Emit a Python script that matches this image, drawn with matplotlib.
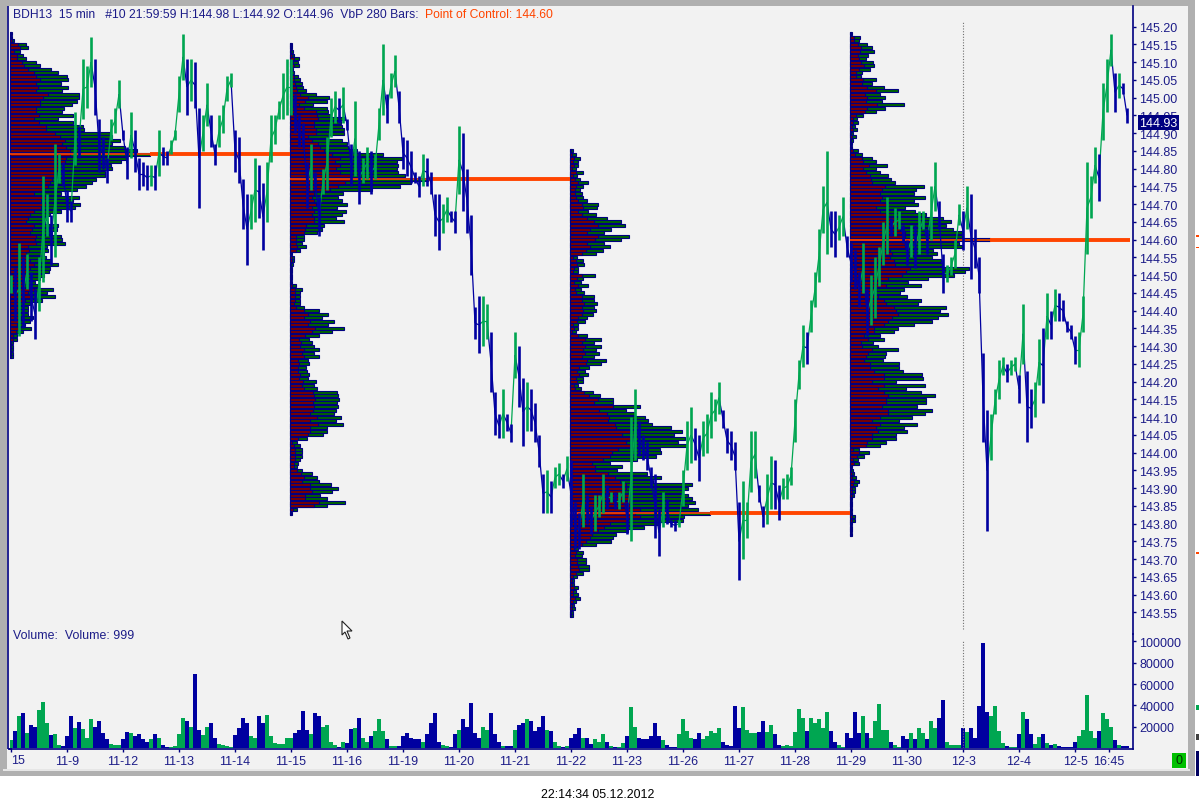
import numpy as np
import matplotlib
matplotlib.use("Agg")
import matplotlib.pyplot as plt
from matplotlib.patches import Rectangle, Polygon
from matplotlib.collections import LineCollection
from matplotlib.transforms import blended_transform_factory

plt.rcParams['font.family'] = ['Liberation Sans', 'DejaVu Sans']

# price highs/lows, one entry per 4 px slot, 70 slots for each 5 day block
high1 = [144.50,144.52,144.59,144.55,144.56,144.51,144.46,144.55,144.78,144.73,144.67,144.87,144.84,144.82,
         144.74,144.71,144.96,144.92,145.11,145.09,145.17,145.11,144.94,144.89,144.83,144.94,144.97,145.05,
         144.91,144.86,144.96,144.91,144.83,144.82,144.81,144.81,144.81,144.91,144.86,144.85,144.88,144.91,
         145.06,145.18,145.11,145.11,145.10,144.97,144.95,145.04,144.95,144.87,144.95,144.98,145.06,145.07,
         144.91,144.89,144.77,144.73,144.73,144.83,144.81,144.76,144.82,144.95,144.95,144.99,145.07,145.11]
low1 = [144.45,144.37,144.33,144.35,144.46,144.37,144.32,144.40,144.48,144.61,144.53,144.55,144.76,144.75,
        144.65,144.65,144.81,144.83,144.94,144.97,145.03,144.95,144.79,144.80,144.76,144.88,144.90,144.97,
        144.88,144.77,144.83,144.79,144.74,144.75,144.74,144.75,144.74,144.78,144.81,144.81,144.84,144.88,
        144.96,145.05,144.95,144.99,144.97,144.69,144.85,144.92,144.86,144.81,144.86,144.90,144.99,145.03,
        144.79,144.76,144.63,144.53,144.63,144.65,144.66,144.57,144.65,144.82,144.87,144.94,144.94,144.95]
high2 = [145.11,145.01,144.95,144.93,144.82,144.87,144.79,144.72,144.80,144.89,145.00,145.02,145.00,145.03,
         144.94,144.87,144.99,144.85,144.83,144.86,144.85,144.84,144.97,145.15,145.01,145.07,145.12,145.02,
         144.89,144.88,144.85,144.79,144.78,144.84,144.83,144.79,144.73,144.73,144.70,144.72,144.68,144.68,
         144.92,144.90,144.80,144.67,144.41,144.44,144.44,144.42,144.34,144.17,144.11,144.18,144.11,144.08,
         144.34,144.30,144.21,144.20,144.18,144.14,144.05,143.94,143.95,143.92,143.96,143.97,143.94,143.99]
low2 = [144.95,144.90,144.86,144.86,144.69,144.74,144.74,144.61,144.73,144.74,144.89,144.93,144.93,144.93,
        144.91,144.75,144.78,144.70,144.76,144.77,144.73,144.77,144.88,144.95,144.93,145.00,145.03,144.93,
        144.80,144.78,144.76,144.76,144.72,144.75,144.75,144.73,144.61,144.57,144.62,144.65,144.65,144.62,
        144.73,144.68,144.62,144.50,144.32,144.28,144.30,144.32,144.17,144.05,144.04,144.04,144.06,144.03,
        144.21,144.13,144.02,144.06,144.06,144.03,143.96,143.83,143.83,143.83,143.90,143.91,143.90,143.92]
high3 = [143.98,143.86,143.83,143.94,143.88,143.85,143.88,143.88,143.94,143.91,143.89,143.89,143.89,143.92,
         143.86,144.10,144.18,144.09,144.05,144.03,143.96,143.94,143.84,143.89,143.87,143.81,143.81,143.81,
         143.95,144.09,144.13,144.07,144.05,144.09,144.11,144.17,144.15,144.20,144.12,144.07,144.06,144.03,
         143.86,143.92,143.86,144.06,144.06,143.91,143.85,143.94,143.99,143.98,143.91,143.93,143.94,143.96,
         144.15,144.26,144.36,144.34,144.43,144.51,144.63,144.75,144.85,144.68,144.68,144.67,144.72,144.61]
low3 = [143.79,143.73,143.73,143.79,143.80,143.77,143.78,143.82,143.83,143.84,143.86,143.84,143.84,143.86,
        143.77,143.75,143.98,143.99,143.98,143.95,143.90,143.76,143.71,143.79,143.80,143.79,143.78,143.79,
        143.85,143.95,143.97,143.98,143.92,143.99,144.00,144.04,144.09,144.11,144.07,144.00,143.98,143.95,
        143.64,143.70,143.76,143.89,143.93,143.86,143.79,143.80,143.84,143.84,143.81,143.87,143.87,143.91,
        144.03,144.18,144.24,144.25,144.34,144.41,144.48,144.62,144.56,144.58,144.55,144.60,144.61,144.55]
high4 = [144.59,144.57,144.51,144.59,144.46,144.50,144.55,144.58,144.65,144.72,144.66,144.69,144.68,144.64,
         144.60,144.64,144.64,144.68,144.68,144.63,144.75,144.82,144.71,144.56,144.53,144.55,144.60,144.70,
         144.68,144.75,144.73,144.63,144.55,144.28,144.12,144.11,144.18,144.26,144.27,144.25,144.26,144.27,
         144.22,144.42,144.23,144.18,144.20,144.32,144.35,144.45,144.40,144.46,144.45,144.43,144.37,144.36,
         144.33,144.34,144.44,144.82,144.78,144.86,144.84,145.04,145.11,145.18,145.07,145.07,145.04,144.97]
low4 = [144.48,144.46,144.41,144.45,144.33,144.36,144.38,144.47,144.53,144.56,144.61,144.61,144.63,144.59,
        144.53,144.55,144.52,144.56,144.63,144.56,144.60,144.68,144.63,144.45,144.48,144.50,144.52,144.64,
        144.57,144.63,144.49,144.52,144.45,144.03,143.78,143.98,144.11,144.15,144.22,144.20,144.22,144.23,
        144.14,144.25,144.03,144.07,144.10,144.19,144.14,144.32,144.32,144.37,144.37,144.37,144.34,144.32,
        144.25,144.24,144.34,144.56,144.66,144.76,144.71,144.88,144.96,145.09,144.96,145.00,145.01,144.93]

# volume per slot, in thousands
vol_k = [7,16,30,33,14,22,20,36,43,23,12,13,3,2,
         11,30,19,24,18,9,27,20,25,14,8,4,3,3,
         8,15,14,11,13,8,6,8,13,9,3,1,1,2,
         13,28,25,20,69,17,12,20,23,9,4,3,2,1,
         12,19,28,23,11,9,30,23,31,11,5,4,4,9,
         9,14,17,35,17,13,33,30,20,22,6,3,1,6,
         5,18,19,28,9,6,11,16,27,16,8,2,2,2,
         11,14,9,8,8,6,13,23,33,6,3,2,1,13,
         17,27,20,42,14,9,20,17,33,13,6,2,2,2,
         17,22,23,27,25,16,20,30,17,16,6,2,1,2,
         9,13,19,9,9,4,8,6,13,6,2,1,1,5,
         11,38,20,9,8,8,11,23,11,7,3,1,1,13,
         27,16,9,8,14,8,11,16,14,19,6,3,2,39,
         19,38,17,14,14,15,25,15,22,13,3,2,3,2,
         15,37,28,16,28,23,27,19,34,16,6,3,1,14,
         9,34,14,30,14,9,25,41,17,17,6,3,1,11,
         8,14,8,19,14,8,25,19,28,45,6,3,3,3,
         19,15,19,9,39,99,34,30,39,16,5,2,1,1,
         13,34,27,13,4,10,13,5,3,4,2,1,1,1,
         6,11,17,50,16,9,16,33,27,20,7,3,2,2]

# volume by price rows, top row first: total and the down part of it
total1 = [2,2,4,16,18,10,13,16,26,30,41,48,57,58,51,58,52,69,69,67,62,54,52,63,48,63,73,74,100,102,
          110,102,115,127,140,116,111,101,102,95,95,86,82,76,67,51,69,63,70,65,51,40,37,35,48,47,42,51,52,55,
          37,38,34,36,41,48,40,39,34,30,25,28,43,37,45,32,20,18,18,18,23,20,15,21,13,7,7,3,3,3,3,3]
down1 = [1,1,2,8,10,4,7,7,12,14,18,24,26,30,26,28,26,38,33,30,30,26,26,29,24,29,36,36,45,50,
         55,52,56,60,60,56,55,50,50,46,46,42,40,38,33,24,38,31,36,31,24,20,18,16,24,22,20,26,25,26,
         18,19,16,17,20,24,20,18,16,14,12,14,24,18,22,15,10,9,9,9,11,10,7,10,6,3,3,1,1,1,1,1]
total2 = [2,2,3,4,9,8,9,3,4,8,10,12,13,16,26,39,37,23,37,38,40,55,51,52,54,54,38,52,57,58,
          67,93,112,107,108,107,108,115,138,121,110,82,53,48,52,57,47,56,52,46,54,34,32,27,14,14,12,16,10,2,
          4,4,3,2,2,2,2,2,6,12,10,10,10,10,14,29,38,32,44,38,54,42,29,19,22,24,29,24,29,18,
          19,16,17,19,18,26,24,27,47,48,49,47,48,46,44,51,46,53,37,37,33,17,7,10,12,12,12,10,8,7,
          12,22,27,29,41,48,42,30,37,55,37,7,2]
down2 = [1,1,1,2,4,3,4,1,2,4,4,5,6,7,10,18,15,9,14,26,27,28,24,24,26,26,18,22,28,30,
         34,42,50,45,50,46,50,60,60,55,48,40,24,22,24,26,22,24,22,24,24,16,15,14,6,6,6,7,6,1,
         2,2,1,1,1,1,1,1,2,5,5,5,5,4,6,14,18,14,20,18,25,22,15,9,11,10,14,12,14,8,
         9,8,8,10,9,13,12,14,23,24,25,23,24,23,20,27,20,28,20,20,18,8,2,4,5,5,5,5,4,4,
         7,11,14,12,20,20,22,15,15,29,24,3,1]
total3 = [3,6,10,8,8,6,13,7,10,18,13,10,12,13,17,28,27,18,26,37,51,55,41,34,59,51,34,40,33,26,
          7,13,14,8,8,25,13,11,18,11,14,24,24,27,24,26,23,17,15,8,8,6,17,31,24,31,26,29,24,36,
          31,19,15,18,13,13,8,11,23,30,43,43,70,56,65,75,78,82,101,112,104,115,108,117,90,91,86,67,40,52,
          47,77,91,83,122,118,113,118,122,125,118,128,140,114,113,90,74,58,46,43,41,26,8,13,12,16,16,19,
          19,13,7,4,4,8,6,8,10,6,4,5,3,3]
down3 = [1,2,4,3,4,2,6,3,5,8,6,5,5,6,8,12,13,8,12,17,24,28,20,17,28,25,17,20,16,12,
         3,6,7,4,3,12,7,4,8,5,6,12,12,14,12,13,12,8,7,3,4,2,8,15,12,15,13,15,12,17,
         16,9,7,9,6,7,4,5,14,19,28,24,43,29,37,39,38,45,46,60,52,62,56,60,48,42,40,33,22,25,
         25,38,45,50,56,56,52,60,60,62,60,70,65,70,58,40,34,28,22,20,16,12,4,6,5,7,7,8,
         9,6,3,2,2,4,3,3,5,3,2,2,1,1]
total4 = [2,10,9,17,22,24,18,16,23,24,20,12,11,26,22,34,48,30,35,32,54,35,26,13,7,8,5,7,3,6,
          3,2,2,8,12,22,26,37,26,30,38,41,45,74,66,64,75,64,68,55,65,76,93,101,96,103,112,112,140,109,
          112,83,87,82,91,92,119,115,104,78,58,71,54,50,57,71,68,96,90,98,88,82,64,48,44,30,34,23,28,48,
          36,35,33,49,49,53,72,73,46,75,56,71,85,76,76,67,82,75,62,49,67,54,57,46,46,36,30,9,19,14,
          8,9,2,3,4,6,9,7,5,5,4,2,2,2,2,2,5,5,2,2,2,2]
down4 = [1,4,4,8,11,10,8,9,11,14,9,6,6,13,12,17,26,15,17,16,27,17,15,6,3,3,2,3,1,2,
         1,1,1,3,5,12,13,19,13,16,20,21,22,35,32,30,32,30,36,26,30,36,44,50,48,50,55,55,60,55,
         55,40,42,40,44,45,60,56,52,38,30,36,26,24,28,34,36,44,46,48,42,38,34,24,24,14,18,11,12,22,
         18,16,14,20,20,24,34,34,22,34,28,34,38,36,36,32,38,38,30,22,30,26,28,22,22,17,16,3,9,7,
         3,4,1,1,2,2,4,3,2,2,2,1,1,1,1,1,2,2,1,1,1,1]

profile_top = [145.18, 145.15, 144.85, 145.18]
poc_price = [144.84, 144.77, 143.83, 144.60]
block_start = [0, 70, 140, 210]

price_ticks = [145.20,145.15,145.10,145.05,145.00,144.95,144.90,144.85,144.80,144.75,144.70,144.65,144.60,
               144.55,144.50,144.45,144.40,144.35,144.30,144.25,144.20,144.15,144.10,144.05,144.00,143.95,
               143.90,143.85,143.80,143.75,143.70,143.65,143.60,143.55]
vol_ticks = [20000, 40000, 60000, 80000, 100000]
date_ticks = [14,28,42,56,70,84,98,112,126,140,154,168,182,196,210,224,238,252,266,274.5]
date_labels = ['11-9','11-12','11-13','11-14','11-15','11-16','11-19','11-20','11-21','11-22','11-23',
               '11-26','11-27','11-28','11-29','11-30','12-3','12-4','12-5','16:45']
last_price = 144.93

NAVY = '#000080'
BLUE = '#0000a0'
GREEN = '#00a651'
ORANGE = '#ff4500'
TXT = '#1c1c88'
W, H = 1199, 812

fig = plt.figure(figsize=(W/100, H/100), dpi=100, facecolor='white')

# window chrome, in pixels
bg = fig.add_axes([0, 0, 1, 1])
bg.set_xlim(0, W)
bg.set_ylim(H, 0)
bg.axis('off')
bg.add_patch(Rectangle((0, 0), 1195, 777, color='#b0b0b0', lw=0))
bg.add_patch(Rectangle((7, 7), 1181, 763, color='#f2f2f2', lw=0))
bg.add_patch(Rectangle((3, 770), 1187, 2, color='#e6e6e6', lw=0))
bg.add_patch(Rectangle((1172, 754), 14, 15, color='#00c000', lw=0))
for y0, y1, c in [(236, 238, ORANGE), (248, 249, ORANGE), (553, 555, ORANGE), (706, 711, '#00a651'),
                  (735, 741, '#404040'), (752, 777, '#000060')]:
    bg.add_patch(Rectangle((1196, y0), 3, y1-y0, color=c, lw=0))
bg.text(1179, 761.5, '0', ha='center', va='center', fontsize=9, color='#003000')
bg.text(13, 14.5, 'BDH13  15 min   #10 21:59:59 H:144.98 L:144.92 O:144.96  VbP 280 Bars:',
        fontsize=8.75, color=TXT, va='center')
bg.text(425, 14.5, 'Point of Control: 144.60', fontsize=8.75, color=ORANGE, va='center')
bg.text(13, 636, 'Volume:  Volume: 999', fontsize=8.9, color=TXT, va='center')
bg.text(598, 795, '22:14:34 05.12.2012', fontsize=8.9, color='black', ha='center', va='center')
bg.add_patch(Polygon([(342, 622), (342, 636), (345, 633), (348, 640), (350, 639), (347, 632), (352, 632)],
                     closed=True, facecolor='white', edgecolor='#222222', lw=0.8, zorder=5))


def px_axes(x0, y0, x1, y1):
    return fig.add_axes([x0/W, 1-y1/H, (x1-x0)/W, (y1-y0)/H], facecolor='none')


ax = px_axes(10, 7, 1133, 635)
axv = px_axes(10, 635, 1133, 750)
xlim = (-0.25, 280.5)

high = np.array(high1+high2+high3+high4)
low = np.array(low1+low2+low3+low4)
vol = np.array(vol_k)*1000
slots = np.arange(len(high))
mid = (high+low)/2
up = np.r_[True, mid[1:] >= mid[:-1]]
bar_colors = [GREEN if u else BLUE for u in up]

# volume by price profiles
totals = [total1, total2, total3, total4]
downs = [down1, down2, down3, down4]
for i in range(4):
    start = block_start[i]-0.25
    t = np.array(totals[i])/4
    d = np.array(downs[i])/4
    rows = profile_top[i]-0.01*np.arange(len(t))
    ax.barh(rows, t, left=start, height=0.0085, color='#006400', edgecolor=NAVY, linewidth=0.8, zorder=2)
    ax.barh(rows, d, left=start, height=0.0085, color='#7a0000', edgecolor=NAVY, linewidth=0.8, zorder=2)
    poc_w = t.max()
    ax.hlines(poc_price[i], start, start+poc_w, color=ORANGE, linewidth=1.2, zorder=3)
    ax.hlines(poc_price[i], start+poc_w, start+70, color=ORANGE, linewidth=2.8, zorder=3)

# price bars, joined bar to bar like the packed 1 px bars of the chart
joins = [[(s-1, mid[s-1]), (s, mid[s])] for s in slots[1:]]
ax.add_collection(LineCollection(joins, colors=bar_colors[1:], linewidths=0.9, zorder=4))
ax.vlines(slots, low, high, colors=bar_colors, linewidth=1.9, zorder=4)
ax.vlines(238, 143.503, 145.216, colors='#707070', linestyles=(0, (1, 1.5)), linewidth=0.8, zorder=1)

axv.bar(slots, vol, width=0.95, color=bar_colors, linewidth=0)
axv.vlines(238, 0, 100000, colors='#707070', linestyles=(0, (1, 1.5)), linewidth=0.8, zorder=1)

ax.set_xlim(xlim)
ax.set_ylim(145.278-635/355, 145.278-7/355)
ax.set_yticks(price_ticks)
ax.set_yticklabels(['%.2f' % p for p in price_ticks])
ax.set_xticks([])

axv.set_xlim(xlim)
axv.set_ylim(-1000, 107000)
axv.set_yticks(vol_ticks)
axv.set_yticklabels([str(v) for v in vol_ticks])
axv.set_xticks([0]+date_ticks)
axv.set_xticklabels(['']+date_labels)

for a in (ax, axv):
    a.yaxis.tick_right()
    a.tick_params(axis='y', colors=NAVY, labelcolor=TXT, labelsize=9, length=2.5, width=1, pad=2)
    for s in ('top', 'left', 'bottom'):
        a.spines[s].set_visible(False)
    a.spines['right'].set_color(NAVY)
    a.spines['right'].set_linewidth(1.2)
axv.tick_params(axis='x', colors=NAVY, labelcolor=TXT, labelsize=9, length=2.5, width=1, pad=1.5)
axv.spines['bottom'].set_visible(True)
axv.spines['bottom'].set_color(NAVY)
axv.spines['bottom'].set_linewidth(1.2)
axv.text(0, -0.098, '15', transform=blended_transform_factory(axv.transData, axv.transAxes),
         fontsize=9, color=TXT, ha='left', va='center')
bg.vlines(8, 7, 750, colors=NAVY, linewidth=1.2)
bg.hlines(750, 8, 12, colors=NAVY, linewidth=1.2)

# last price flag over the tick labels
ax.text(1.0055, last_price, '%.2f' % last_price, transform=blended_transform_factory(ax.transAxes, ax.transData),
        color='white', fontsize=9, va='center', ha='left', zorder=6,
        bbox=dict(facecolor='#000080', edgecolor='none', pad=1.2))

fig.savefig('out.png', dpi=100, facecolor='white')
